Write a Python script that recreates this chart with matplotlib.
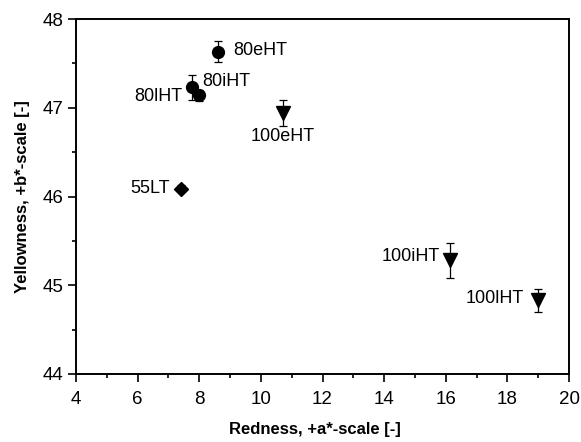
import matplotlib.pyplot as plt
from matplotlib.ticker import MultipleLocator

plt.rcParams['font.family'] = ['Liberation Sans', 'DejaVu Sans']

# samples: name, redness a*, yellowness b*, error in b*, marker
names  = ['80eHT', '80iHT', '80lHT', '55LT', '100eHT', '100iHT', '100lHT']
a_val  = [8.60, 8.00, 7.76, 7.40, 10.71, 16.14, 18.98]
b_val  = [47.63, 47.14, 47.23, 46.09, 46.94, 45.28, 44.83]
b_err  = [0.12, 0.06, 0.14, 0.04, 0.15, 0.20, 0.13]
marks  = ['o', 'o', 'o', 'D', 'v', 'v', 'v']

# label offsets in points (dx, dy), alignment
lab_off = [(11, 1, 'left'), (2.5, 10, 'left'), (-7, -6.5, 'right'), (-8, 0, 'right'),
           (0, -17, 'center'), (-7, 3, 'right'), (-10, 1, 'right')]

fig = plt.figure(figsize=(5.81, 4.42), dpi=100)
ax = fig.add_axes([76/581, 68/442, 493/581, 355/442])

for i in range(len(names)):
    ms = {'o': 8.5, 'D': 7, 'v': 9.5}[marks[i]]
    ax.errorbar(a_val[i], b_val[i], yerr=b_err[i], fmt=marks[i], color='black',
                ms=ms, elinewidth=0.9, capsize=3, capthick=0.9)
    dx, dy, ha = lab_off[i]
    ax.annotate(names[i], (a_val[i], b_val[i]), xytext=(dx, dy),
                textcoords='offset points', ha=ha, va='center', fontsize=13)

ax.set_xlim(4, 20)
ax.set_ylim(44, 48)
ax.xaxis.set_major_locator(MultipleLocator(2))
ax.xaxis.set_minor_locator(MultipleLocator(1))
ax.yaxis.set_major_locator(MultipleLocator(1))
ax.yaxis.set_minor_locator(MultipleLocator(0.5))
ax.tick_params(which='both', direction='out', top=False, right=False, width=1.2)
ax.tick_params(which='major', length=6, labelsize=13.5)
ax.tick_params(axis='x', which='major', pad=6)
ax.tick_params(axis='y', which='major', pad=3)
ax.tick_params(which='minor', length=3)
for s in ax.spines.values():
    s.set_linewidth(1.4)

ax.set_xlabel('Redness, +a*-scale [-]', fontsize=12, fontweight='bold', labelpad=12)
ax.xaxis.set_label_coords(0.484, -0.135)
ax.set_ylabel('Yellowness, +b*-scale [-]', fontsize=12, fontweight='bold', labelpad=9)

plt.savefig('out.png', dpi=100)
